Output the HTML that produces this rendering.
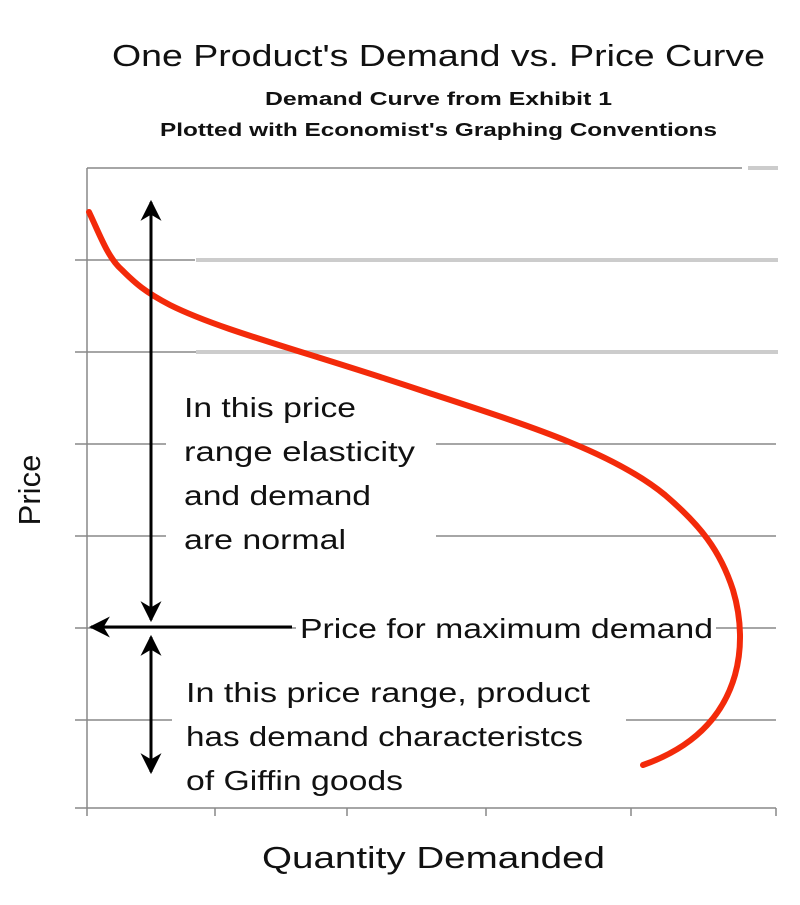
<!DOCTYPE html>
<html><head><meta charset="utf-8"><style>
body{margin:0;background:#fff;}
svg text{font-family:"Liberation Sans",sans-serif;fill:#111;}
</style></head><body>
<svg width="800" height="900" viewBox="0 0 800 900" xmlns="http://www.w3.org/2000/svg">
<defs><marker id="ah" viewBox="0 0 10 10" refX="9" refY="5" markerWidth="7" markerHeight="7" orient="auto-start-reverse"><path d="M0,0 L10,5 L0,10 L3,5 z" fill="#000"/></marker></defs>
<text x="112" y="66" font-size="31" textLength="653" lengthAdjust="spacingAndGlyphs">One Product's Demand vs. Price Curve</text>
<text x="265" y="105" font-size="18" font-weight="bold" textLength="347" lengthAdjust="spacingAndGlyphs">Demand Curve from Exhibit 1</text>
<text x="160" y="136" font-size="18" font-weight="bold" textLength="557" lengthAdjust="spacingAndGlyphs">Plotted with Economist's Graphing Conventions</text>
<g stroke="#888" stroke-width="1.5">
<line x1="87" y1="168" x2="742" y2="168"/>
<line x1="87" y1="168" x2="87" y2="808"/>
<line x1="75" y1="808" x2="776" y2="808"/>
<line x1="75" y1="260" x2="195" y2="260"/>
<line x1="75" y1="352" x2="196" y2="352"/>
<line x1="75" y1="444" x2="776" y2="444"/>
<line x1="75" y1="536" x2="776" y2="536"/>
<line x1="75" y1="628" x2="776" y2="628"/>
<line x1="75" y1="720" x2="776" y2="720"/>
<line x1="87" y1="808" x2="87" y2="816"/><line x1="215" y1="808" x2="215" y2="816"/><line x1="347" y1="808" x2="347" y2="816"/><line x1="486" y1="808" x2="486" y2="816"/><line x1="631" y1="808" x2="631" y2="816"/><line x1="776" y1="808" x2="776" y2="816"/>
</g>
<g stroke="#ccc" stroke-width="4">
<line x1="748" y1="168" x2="778" y2="168"/>
<line x1="196" y1="260" x2="778" y2="260"/>
<line x1="196" y1="352" x2="778" y2="352"/>
</g>
<rect x="166" y="382" width="270" height="175" fill="#fff"/>
<rect x="172" y="668" width="454" height="135" fill="#fff"/>
<path d="M89,212 C100,235 108,258 122,270 C135,283 145,292 170,305 C220,330 300,350 420,390 C520,423 610,450 665,495 C700,525 720,550 733,590 C742,620 742,650 735,675 C725,710 700,745 643,765" fill="none" stroke="#f32a0a" stroke-width="6" stroke-linecap="round"/>
<g stroke="#000" stroke-width="3" fill="none">
<line x1="151" y1="620" x2="151" y2="202" marker-end="url(#ah)"/>
<line x1="151" y1="400" x2="151" y2="620" marker-end="url(#ah)"/>
<line x1="151" y1="770" x2="151" y2="637" marker-end="url(#ah)"/>
<line x1="151" y1="640" x2="151" y2="772" marker-end="url(#ah)"/>
<line x1="292" y1="627" x2="91" y2="627" marker-end="url(#ah)"/>
</g>
<rect x="296" y="605" width="420" height="42" fill="#fff"/>
<g font-size="28" lengthAdjust="spacingAndGlyphs">
<text x="300" y="638" textLength="413" lengthAdjust="spacingAndGlyphs">Price for maximum demand</text>
<text x="184" y="417" textLength="172" lengthAdjust="spacingAndGlyphs">In this price</text>
<text x="184" y="461" textLength="231" lengthAdjust="spacingAndGlyphs">range  elasticity</text>
<text x="184" y="505" textLength="187" lengthAdjust="spacingAndGlyphs">and demand</text>
<text x="184" y="549" textLength="162" lengthAdjust="spacingAndGlyphs">are normal</text>
<text x="186" y="702" textLength="404" lengthAdjust="spacingAndGlyphs">In this price range, product</text>
<text x="186" y="746" textLength="397" lengthAdjust="spacingAndGlyphs">has demand characteristcs</text>
<text x="186" y="790" textLength="217" lengthAdjust="spacingAndGlyphs">of Giffin goods</text>
</g>
<text x="262" y="868" font-size="31" textLength="343" lengthAdjust="spacingAndGlyphs">Quantity Demanded</text>
<text transform="translate(40,490) rotate(-90)" font-size="31" text-anchor="middle">Price</text>
</svg>
</body></html>
